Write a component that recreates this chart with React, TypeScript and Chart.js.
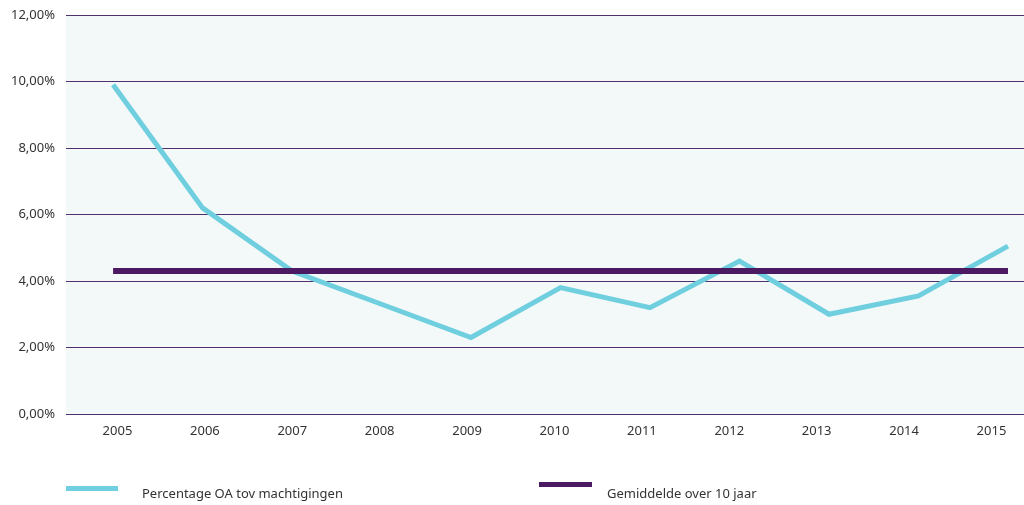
import React, { useEffect, useRef } from "react";
import { Chart, registerables } from "chart.js";

Chart.register(...registerables);

const years: string[] = ["2005", "2006", "2007", "2008", "2009", "2010", "2011", "2012", "2013", "2014", "2015"];
const percentageOA: number[] = [9.9, 6.2, 4.3, 3.3, 2.3, 3.8, 3.2, 4.6, 3.0, 3.55, 5.05];
const gemiddelde: number[] = [4.3, 4.3, 4.3, 4.3, 4.3, 4.3, 4.3, 4.3, 4.3, 4.3, 4.3];
const yTicks: number[] = [0, 2, 4, 6, 8, 10, 12];

const seriesLabels = ["Percentage OA tov machtigingen", "Gemiddelde over 10 jaar"];
const CYAN = "#6fcfdf";
const PURPLE = "#4b1a62";
const GRID = "#4f2f6c";
const FONT = "'Noto Sans', sans-serif";

const bgPlugin = {
  id: "plotBg",
  beforeDraw(chart: any) {
    const { ctx, chartArea } = chart;
    ctx.save();
    ctx.fillStyle = "#f3f9f9";
    ctx.fillRect(chartArea.left, chartArea.top, chartArea.right - chartArea.left, chartArea.bottom - chartArea.top);
    ctx.restore();
  },
};

export default function App() {
  const ref = useRef<HTMLCanvasElement | null>(null);
  useEffect(() => {
    if (!ref.current) return;
    const chart = new Chart(ref.current, {
      type: "line",
      data: {
        datasets: [
          {
            label: seriesLabels[0],
            data: percentageOA.map((v, i) => ({ x: i, y: v })),
            borderColor: CYAN,
            backgroundColor: CYAN,
            borderWidth: 5,
            pointRadius: 0,
            tension: 0,
            xAxisID: "x",
            yAxisID: "y",
            order: 2,
          },
          {
            label: seriesLabels[1],
            data: gemiddelde.map((v, i) => ({ x: i, y: v })),
            borderColor: PURPLE,
            backgroundColor: PURPLE,
            borderWidth: 6,
            pointRadius: 0,
            tension: 0,
            xAxisID: "x",
            yAxisID: "y",
            order: 1,
          },
        ],
      },
      options: {
        animation: false,
        responsive: false,
        maintainAspectRatio: false,
        layout: { padding: { top: 15, right: 0, bottom: 0, left: 0 } },
        plugins: { legend: { display: false }, tooltip: { enabled: false } },
        scales: {
          x: {
            type: "linear",
            display: false,
            min: -0.526,
            max: 10.179,
          },
          xl: {
            type: "linear",
            position: "bottom",
            min: -0.589,
            max: 10.372,
            grid: { display: false, drawTicks: false },
            border: { display: false },
            afterBuildTicks: (axis: any) => {
              axis.ticks = years.map((_, i) => ({ value: i }));
            },
            afterFit: (axis: any) => {
              axis.height = 91;
              axis.paddingLeft = 0;
              axis.paddingRight = 0;
            },
            ticks: {
              padding: 9,
              maxRotation: 0,
              autoSkip: false,
              color: "#333333",
              font: { family: FONT, size: 13 },
              callback: (v: any) => years[Math.round(Number(v))] ?? "",
            },
          },
          y: {
            type: "linear",
            min: 0,
            max: 12,
            afterBuildTicks: (axis: any) => {
              axis.ticks = yTicks.map((v) => ({ value: v }));
            },
            afterFit: (axis: any) => {
              axis.width = 66;
              axis.paddingTop = 0;
              axis.paddingBottom = 0;
            },
            grid: { color: GRID, lineWidth: 1, drawTicks: false },
            border: { display: false },
            ticks: {
              padding: 11,
              color: "#333333",
              font: { family: FONT, size: 13 },
              callback: (v: any) => Number(v).toFixed(2).replace(".", ",") + "%",
            },
          },
        },
      },
      plugins: [bgPlugin],
    } as any);
    return () => chart.destroy();
  }, []);

  const textStyle: React.CSSProperties = {
    position: "absolute",
    fontFamily: FONT,
    fontSize: 13,
    color: "#333333",
    whiteSpace: "nowrap",
    lineHeight: "16px",
  };

  return (
    <div style={{ position: "fixed", left: 0, top: 0, width: 1024, height: 505, background: "#ffffff" }}>
      <canvas ref={ref} width={1024} height={505} style={{ position: "absolute", left: 0, top: 0, width: 1024, height: 505 }} />
      <div style={{ position: "absolute", left: 66, top: 486, width: 52, height: 5, background: CYAN }} />
      <span style={{ ...textStyle, left: 142, top: 485 }}>{seriesLabels[0]}</span>
      <div style={{ position: "absolute", left: 539, top: 482, width: 53, height: 5, background: PURPLE }} />
      <span style={{ ...textStyle, left: 607, top: 485 }}>{seriesLabels[1]}</span>
    </div>
  );
}
